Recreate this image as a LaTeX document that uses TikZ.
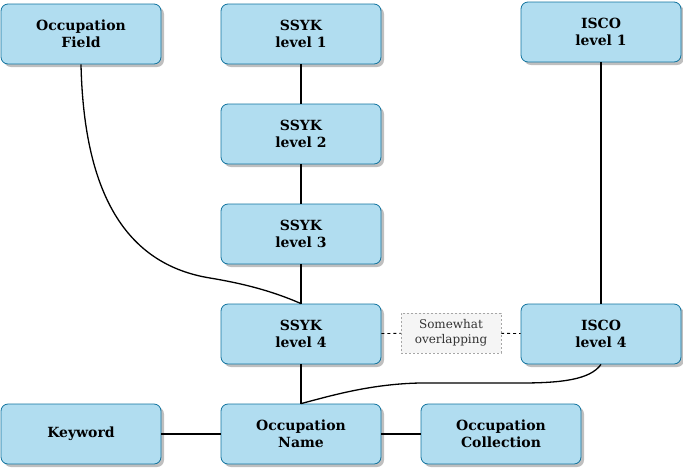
\documentclass[tikz,border=0pt]{standalone}
\usepackage{fontspec}
\setmainfont{DejaVu Serif}
\usepackage{tikz}
\usetikzlibrary{shadows}
\definecolor{MyBox}{HTML}{B1DDF0}
\definecolor{MyEdge}{HTML}{10739E}
\definecolor{MyNote}{HTML}{F5F5F5}
\definecolor{MyNoteText}{HTML}{333333}
\tikzset{
    category/.style={
      rectangle,
      fill=MyBox,
      rounded corners=7pt,
      minimum width=160pt,
      minimum height=60pt,
      text=black,
      draw=MyEdge,
      line width=0.8pt,
      align=center,
      font=\fontsize{14}{17}\selectfont\bfseries,
      drop shadow={shadow xshift=3pt,shadow yshift=-3pt,fill=black,opacity=0.25}
    },
    note/.style={
      rectangle,
      fill=MyNote,
      draw=gray!70,
      dashed,
      dash pattern=on 2pt off 2pt,
      minimum width=100pt,
      minimum height=40pt,
      text=MyNoteText,
      align=center,
      font=\fontsize{12}{15}\selectfont
    },
    link/.style={line width=1.3pt}
}

\begin{document}
\begin{tikzpicture}[x=1pt,y=-1pt]
    \useasboundingbox (0,0) rectangle (683,467);

    % top row
    \node[category] at (81,34) (field) {Occupation\\Field};
    \node[category] at (301,34) (ssyk1) {SSYK\\level 1};
    \node[category] at (601,32) (isco1) {ISCO\\level 1};

    % ssyk chain
    \node[category] at (301,134) (ssyk2) {SSYK\\level 2};
    \node[category] at (301,234) (ssyk3) {SSYK\\level 3};
    \node[category] at (301,334) (ssyk4) {SSYK\\level 4};
    \node[category] at (601,334) (isco4) {ISCO\\level 4};
    \node[note] at (451,333) (overlap) {Somewhat\\overlapping};

    % bottom row
    \node[category] at (81,434) (keyword) {Keyword};
    \node[category] at (301,434) (name) {Occupation\\Name};
    \node[category] at (501,434) (collection) {Occupation\\Collection};

    \path (ssyk1) edge[link] (ssyk2);
    \path (ssyk2) edge[link] (ssyk3);
    \path (ssyk3) edge[link] (ssyk4);
    \path (ssyk4) edge[link] (name);
    \path (isco1) edge[link] (isco4);
    \path (keyword) edge[link] (name);
    \path (name) edge[link] (collection);
    \path (ssyk4) edge[dashed,line width=0.8pt,dash pattern=on 3pt off 3pt] (overlap);
    \path (overlap) edge[dashed,line width=0.8pt,dash pattern=on 3pt off 3pt] (isco4);

    \draw[link] (field.south) .. controls (84,200) and (130,265) .. (210,278)
      .. controls (240,283) and (270,290) .. (ssyk4.north);
    \draw[link] (isco4.south) .. controls (590,380) and (560,383) .. (520,383)
      -- (420,383) .. controls (370,384) and (330,396) .. (name.north);

  \end{tikzpicture}
\end{document}
